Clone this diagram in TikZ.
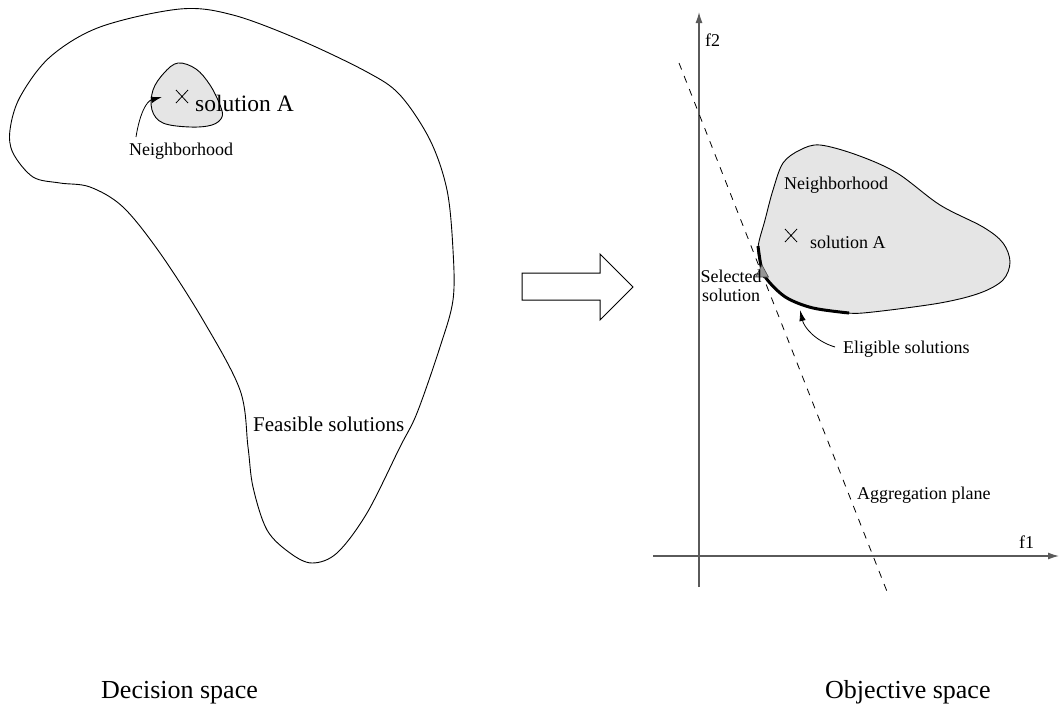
\documentclass[tikz,border=0pt]{standalone}
\usepackage{fontspec}
\setmainfont{Liberation Serif}
\usetikzlibrary{arrows.meta}
\definecolor{nbgray}{RGB}{229,229,229}
\definecolor{trigray}{RGB}{150,150,150}
\definecolor{axgray}{RGB}{90,90,90}
\begin{document}
\begin{tikzpicture}[x=1pt,y=-1pt,
  lbl/.style={font=\fontsize{18}{19}\selectfont, inner sep=0pt, anchor=base west},
  outl/.style={line width=0.9pt},
  axisline/.style={line width=1.3pt, draw=axgray, -{Latex[length=11pt,width=7pt]}},
  ptr/.style={line width=0.8pt, -{Latex[length=11pt,width=6.5pt]}},
  crossmark/.style={line width=0.8pt}]
\useasboundingbox (0,0) rectangle (1059,710);
\fill[white] (0,0) rectangle (1059,710);

% ---------- Decision space ----------
\draw[outl] plot[smooth cycle, tension=0.55] coordinates {
 (180,9) (233,15) (300,40) (367,72) (400,95) (430,140) (447,190) (453,250)
 (453,300) (440,347) (417,413) (400,447) (367,513) (337,553) (312,563)
 (290,553) (267,530) (253,487) (248,447) (240,390) (203,320) (160,253)
 (123,207) (90,187) (60,183) (33,177) (13,153) (10,130) (20,97) (50,57) (100,27)};

\draw[outl, fill=nbgray] plot[smooth cycle, tension=0.6] coordinates {
 (178,63) (196,69) (210,85) (220,105) (222,117) (212,125) (190,127)
 (163,123) (152,110) (153,90) (164,73)};

\draw[crossmark] (176,90) -- (188,103) (176,103) -- (188,90);
\node[anchor=base west, inner sep=0pt, font=\fontsize{23.5}{26}\selectfont] (solA) at (195,111) {solution A};
\node[lbl] (nbL) at (129,155) {Neighborhood};
\coordinate (nbLtail) at (136,137);
\coordinate (nbLtip) at (162,97);
\draw[ptr] (nbLtail) .. controls (140,112) and (147,101) .. (nbLtip);

\node[anchor=base west, inner sep=0pt, font=\fontsize{21}{24}\selectfont] (feas) at (253,431) {Feasible solutions};

% ---------- big arrow ----------
\draw[line width=1pt, line join=miter] (522,273) -- (600,273) -- (600,254) -- (633,287)
  -- (600,320) -- (600,300) -- (522,300) -- cycle;

% ---------- Objective space ----------
\coordinate (xA) at (653,556);
\coordinate (xB) at (1059,556);
\coordinate (yA) at (699,587);
\coordinate (yB) at (699,12);
\draw[axisline] (xA) -- (xB);
\draw[axisline] (yA) -- (yB);
\node[lbl] (f2) at (705,46) {f2};
\node[lbl] (f1) at (1019,548) {f1};

\draw[outl, fill=nbgray] plot[smooth cycle, tension=0.55] coordinates {
 (820,145) (857,155) (897,173) (940,205) (983,227) (1003,243) (1010,262)
 (1003,280) (980,293) (940,303) (873,312) (847,313) (813,308) (787,298)
 (770,283) (762,270) (758,248) (765,220) (773,190) (783,163) (800,150)};

\draw[line width=3pt] plot[smooth, tension=0.55] coordinates {
 (758,246) (762,270) (770,283) (787,298) (813,308) (849,313)};

\coordinate (dA) at (679,63);
\coordinate (dB) at (888,594);
\draw[line width=0.8pt, dash pattern=on 7pt off 7pt] (dA) -- (dB);

\draw[fill=trigray, draw=black!70, line width=0.6pt] (762,265) -- (768.5,277) -- (755.5,277) -- cycle;

\draw[crossmark] (785,229) -- (797,242) (785,242) -- (797,229);
\node[lbl] (nbR) at (784,189) {Neighborhood};
\node[lbl] (solR) at (810,248) {solution A};
\node[font=\fontsize{18}{18.5}\selectfont, inner sep=0pt, align=center, anchor=base] (sel) at (731,301) {Selected\\solution};
\node[lbl] (elig) at (843,353) {Eligible solutions};
\coordinate (eligtail) at (835,347);
\coordinate (eligtip) at (800,310);
\draw[ptr] (eligtail) .. controls (815,341) and (804,327) .. (eligtip);
\node[lbl] (aggr) at (857,499) {Aggregation plane};

% ---------- captions ----------
\node[anchor=base west, inner sep=0pt, font=\fontsize{26}{30}\selectfont] (dec) at (101,698) {Decision space};
\node[anchor=base west, inner sep=0pt, font=\fontsize{26}{30}\selectfont] (obj) at (825,698) {Objective space};
\end{tikzpicture}
\end{document}
